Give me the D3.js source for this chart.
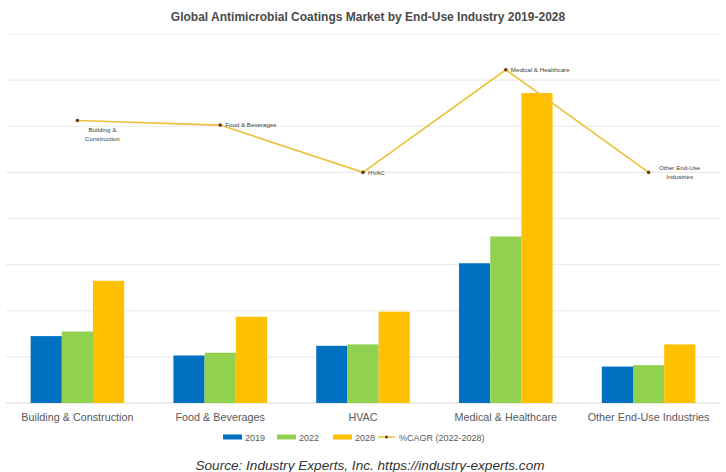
<!DOCTYPE html>
<html><head><meta charset="utf-8">
<script src="https://cdn.jsdelivr.net/npm/d3@7"></script>
<style>body{margin:0;background:#fff}svg{display:block}</style>
</head><body>
<script>
const categories = ["Building & Construction","Food & Beverages","HVAC","Medical & Healthcare","Other End-Use Industries"];
const series = ["2019","2022","2028"];
const values2019 = [1.45,1.03,1.24,3.03,0.79];
const values2022 = [1.55,1.09,1.27,3.61,0.82];
const values2028 = [2.65,1.87,1.98,6.72,1.27];
const cagr = [12.25,12.05,10.0,14.45,10.0];
const cagrLabels = [["Building &","Construction"],["Food & Beverages"],["HVAC"],["Medical & Healthcare"],["Other End-Use","Industries"]];
const yTicks = [0,1,2,3,4,5,6,7,8];
const colors = {"2019":"#0070C0","2022":"#92D050","2028":"#FFC000"};

const W=726,H=472;
const svg=d3.select("body").append("svg").attr("width",W).attr("height",H).style("font-family","Liberation Sans, Arial, sans-serif");
const x0=d3.scaleBand().domain(categories).range([6,720]);
const x1=d3.scaleBand().domain(series).range([0,x0.bandwidth()]).paddingOuter(0.79);
const y=d3.scaleLinear().domain([0,8]).range([403,34]);
const y2=d3.scaleLinear().domain([0,16]).range([403,34]);

// gridlines
svg.append("g").selectAll("line").data(yTicks).join("line")
 .attr("x1",6).attr("x2",720).attr("y1",d=>y(d)).attr("y2",d=>y(d))
 .attr("stroke",d=>d===0?"#d9d9d9":"#ebebeb").attr("stroke-width",1.2);

const table=categories.map((c,i)=>({c,vals:[values2019[i],values2022[i],values2028[i]]}));
const g=svg.append("g").selectAll("g").data(table).join("g").attr("transform",d=>`translate(${x0(d.c)},0)`);
g.selectAll("rect").data(d=>d.vals.map((v,j)=>({s:series[j],v}))).join("rect")
 .attr("x",d=>x1(d.s)).attr("width",x1.bandwidth()).attr("y",d=>y(d.v)).attr("height",d=>y(0)-y(d.v))
 .attr("fill",d=>colors[d.s]);

// category labels
svg.append("g").selectAll("text").data(categories).join("text")
 .attr("x",d=>x0(d)+x0.bandwidth()/2).attr("y",420.5).attr("text-anchor","middle")
 .attr("font-size",10.8).attr("fill","#595959").text(d=>d);

// CAGR line
const cx=d=>x0(d)+x0.bandwidth()/2;
const line=d3.line().x((d,i)=>cx(categories[i])).y(d=>y2(d));
svg.append("path").datum(cagr).attr("d",line).attr("fill","none").attr("stroke","#EDC03A").attr("stroke-width",1.6);
svg.append("g").selectAll("circle").data(cagr).join("circle")
 .attr("cx",(d,i)=>cx(categories[i])).attr("cy",d=>y2(d)).attr("r",1.8).attr("fill","#6b3a10");
// point labels
cagrLabels.forEach((lab,i)=>{
  const px=cx(categories[i]), py=y2(cagr[i]);
  const t=svg.append("text").attr("font-size",6.2).attr("fill","#404040");
  if(i===0){
    t.attr("text-anchor","middle");
    lab.forEach((l,k)=>t.append("tspan").attr("x",px+25).attr("y",py+12+k*8.5).text(l));
  } else if(i===4){
    t.attr("text-anchor","middle");
    lab.forEach((l,k)=>t.append("tspan").attr("x",px+31).attr("y",py-2+k*8.5).text(l));
  } else {
    t.attr("x",px+5).attr("y",py+2.2).text(lab[0]);
  }
});

// title
svg.append("text").attr("x",368).attr("y",21).attr("text-anchor","middle").attr("font-size",12)
 .attr("font-weight","bold").attr("fill","#4a4a4a").text("Global Antimicrobial Coatings Market by End-Use Industry 2019-2028");

// legend
const leg=svg.append("g").attr("font-size",9).attr("fill","#595959");
const legX={"2019":223,"2022":277,"2028":333};
series.forEach(s=>{
  leg.append("rect").attr("x",legX[s]).attr("y",434.5).attr("width",19).attr("height",5).attr("fill",colors[s]);
  leg.append("text").attr("x",legX[s]+22).attr("y",440.5).text(s);
});
leg.append("line").attr("x1",378).attr("x2",395).attr("y1",437).attr("y2",437).attr("stroke","#EDC03A").attr("stroke-width",1.5);
leg.append("circle").attr("cx",386.5).attr("cy",437).attr("r",1.5).attr("fill","#6b3a10");
leg.append("text").attr("x",399).attr("y",440.5).text("%CAGR (2022-2028)");

// source
svg.append("text").attr("x",370).attr("y",470).attr("text-anchor","middle").attr("font-size",13.6)
 .attr("font-style","italic").attr("fill","#333").text("Source: Industry Experts, Inc. https://industry-experts.com");
</script>
</body></html>
